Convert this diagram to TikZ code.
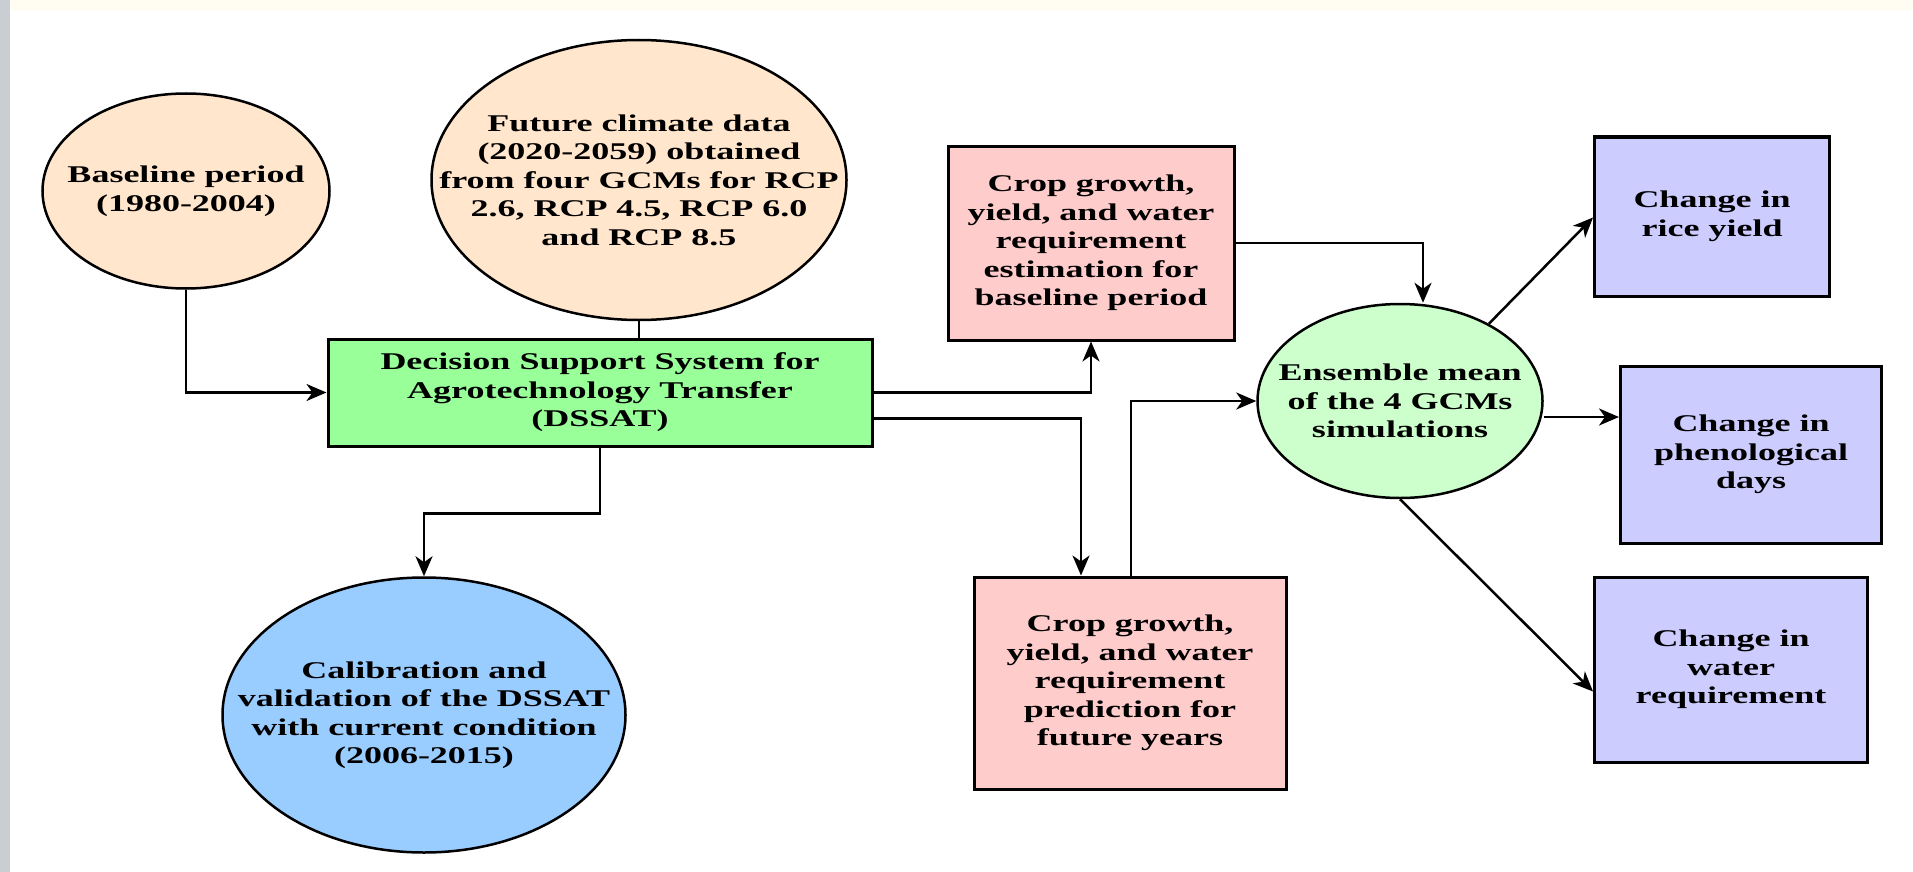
\documentclass[tikz,border=0pt]{standalone}
\usepackage{fontspec}
\setmainfont{Liberation Serif}[FakeStretch=1.5]
\usetikzlibrary{shapes.geometric,arrows.meta}
\definecolor{peach}{HTML}{FFE6CC}
\definecolor{dssatgreen}{HTML}{99FF99}
\definecolor{calblue}{HTML}{99CCFF}
\definecolor{croppink}{HTML}{FFCCCC}
\definecolor{ensgreen}{HTML}{CCFFCC}
\definecolor{lavender}{HTML}{CCCCFF}
\definecolor{stripgray}{HTML}{C9CED3}
\definecolor{stripcream}{HTML}{FFFDF2}
\begin{document}
\begin{tikzpicture}[x=1pt,y=-1pt,
  every node/.style={font=\fontsize{24}{28.5}\selectfont\bfseries},
  ell/.style={draw=black, line width=2.5pt, ellipse, inner sep=0pt},
  box/.style={draw=black, line width=3pt, rectangle, inner sep=0pt, align=center},
  txt/.style={align=center, inner sep=0pt},
  link/.style={line width=2.5pt},
  conn/.style={line width=2.5pt, -{Stealth[length=20pt,width=17pt,inset=6pt]}},
]
\useasboundingbox (0,0) rectangle (1913,872);
\fill[white] (0,0) rectangle (1913,872);
\fill[stripcream] (0,0) rectangle (1913,10);
\fill[stripgray] (0,0) rectangle (10,872);

% nodes
\node[ell, fill=peach, minimum width=287pt, minimum height=195pt] (base) at (186,191) {};
\node[txt] (baset) at (base) {Baseline period\\(1980-2004)};

\node[ell, fill=peach, minimum width=415pt, minimum height=280pt] (fut) at (639,180) {};
\node[txt] (futt) at (fut) {Future climate data\\(2020-2059) obtained\\from four GCMs for RCP\\2.6, RCP 4.5, RCP 6.0\\and RCP 8.5};

\node[box, fill=dssatgreen, minimum width=544pt, minimum height=107pt] (dssat) at (600,392.5)
  {Decision Support System for\\Agrotechnology Transfer\\(DSSAT)};

\node[ell, fill=calblue, minimum width=403pt, minimum height=275pt] (cal) at (424,715) {};
\node[txt] (calt) at (cal) {Calibration and\\validation of the DSSAT\\with current condition\\(2006-2015)};

\node[box, fill=croppink, minimum width=286pt, minimum height=194pt] (cropb) at (1091,243)
  {Crop growth,\\yield, and water\\requirement\\estimation for\\baseline period};

\node[box, fill=croppink, minimum width=312pt, minimum height=212pt] (cropf) at (1130,683)
  {Crop growth,\\yield, and water\\requirement\\prediction for\\future years};

\node[ell, fill=ensgreen, minimum width=285pt, minimum height=194pt] (ens) at (1400,401) {};
\node[txt] (enst) at (ens) {Ensemble mean\\of the 4 GCMs\\simulations};

\node[box, fill=lavender, minimum width=235pt, minimum height=159pt] (rice) at (1712,216.5)
  {Change in\\rice yield};
\node[box, fill=lavender, minimum width=261pt, minimum height=177pt] (phen) at (1751,454.5)
  {Change in\\phenological\\days};
\node[box, fill=lavender, minimum width=273pt, minimum height=185pt] (water) at (1731,669.5)
  {Change in\\water\\requirement};

% connectors
\draw[conn] (base.south) |- (dssat.west);
\draw[link] (fut.south) -- (fut.south |- dssat.north);
\draw[conn] (dssat.east) -| (cropb.south);
\draw[conn] ([yshift=-26pt]dssat.east) -| ([xshift=-49pt]cropf.north);
\draw[conn] (dssat.south) -- ++(0,66) -| (cal.north);
\draw[conn] (cropb.east) -| ([xshift=23pt]ens.north);
\draw[conn] ([xshift=1pt]cropf.north) |- (ens.west);
\draw[conn] ([yshift=-16pt]ens.east) -- ([yshift=-16pt]ens.east -| phen.west);
\draw[conn] (ens.41) -- ([yshift=-1pt]rice.west);
\draw[conn] (ens.south) -- ([yshift=-22pt]water.west);
\end{tikzpicture}
\end{document}
